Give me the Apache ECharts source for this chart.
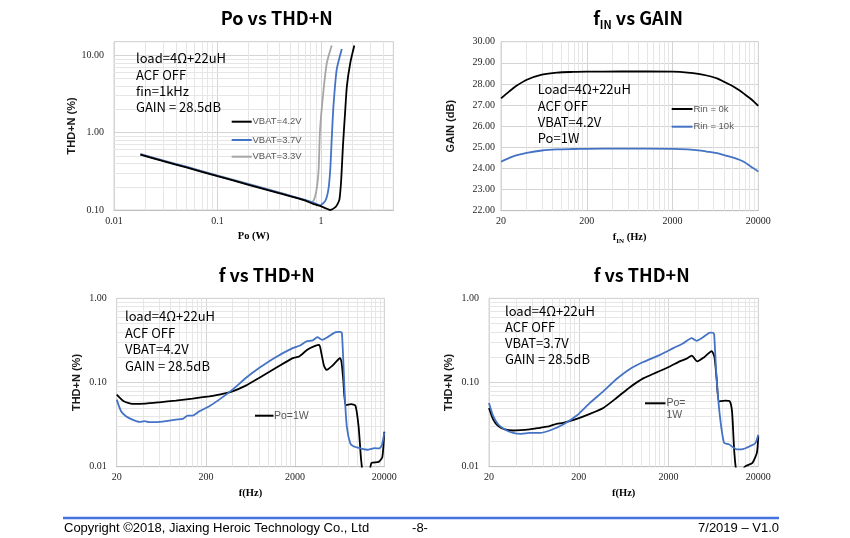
<!DOCTYPE html>
<html><head><meta charset="utf-8">
<script src="https://cdn.jsdelivr.net/npm/echarts@6/dist/echarts.min.js"></script>
<style>html,body{margin:0;padding:0;background:#fff}#c{width:850px;height:538px}</style>
</head><body><div id="c"></div><script>
// ---------- DATA ----------
// Chart 1: Po vs THD+N (Po in W, THD+N in %)
const po42 = [0.018, 0.03, 0.05, 0.1, 0.2, 0.4, 0.7, 0.85, 0.98, 1.1, 1.23, 1.37, 1.45, 1.51, 1.57, 1.63, 1.71, 1.78, 1.92, 2.1];
const thd42 = [0.52, 0.428, 0.355, 0.274, 0.212, 0.164, 0.133, 0.119, 0.113, 0.106, 0.1, 0.108, 0.12, 0.138, 0.25, 0.67, 1.81, 4.0, 8.0, 13.4];
const po37 = [0.018, 0.03, 0.05, 0.1, 0.2, 0.4, 0.7, 0.85, 0.98, 1.1, 1.18, 1.23, 1.27, 1.32, 1.42, 1.59];
const thd37 = [0.525, 0.433, 0.36, 0.277, 0.215, 0.166, 0.135, 0.124, 0.115, 0.131, 0.185, 0.336, 0.82, 2.2, 6.6, 12.1];
const po33 = [0.018, 0.03, 0.05, 0.1, 0.2, 0.4, 0.6, 0.72, 0.79, 0.84, 0.88, 0.92, 0.95, 0.98, 1.06, 1.14, 1.27];
const thd33 = [0.53, 0.437, 0.363, 0.28, 0.218, 0.168, 0.142, 0.131, 0.126, 0.13, 0.152, 0.21, 0.336, 1.1, 3.6, 8.0, 13.4];
const vbatNames = ['VBAT=4.2V', 'VBAT=3.7V', 'VBAT=3.3V'];

// Chart 2: fIN vs GAIN (Hz, dB)
const fGain = [20, 25, 30, 40, 60, 90, 140, 200, 500, 1000, 2000, 3000, 4000, 5000, 6600, 8000, 10000, 12000, 14000, 16000, 18000, 20000];
const gain0k = [27.32, 27.65, 27.9, 28.2, 28.44, 28.54, 28.57, 28.58, 28.59, 28.59, 28.58, 28.54, 28.48, 28.4, 28.26, 28.1, 27.9, 27.7, 27.5, 27.32, 27.14, 26.96];
const gain10k = [24.32, 24.5, 24.62, 24.74, 24.85, 24.9, 24.92, 24.93, 24.94, 24.94, 24.93, 24.9, 24.86, 24.8, 24.72, 24.63, 24.52, 24.41, 24.28, 24.12, 23.98, 23.85];
const rinNames = ['Rin = 0k', 'Rin = 10k'];

// Chart 3: f vs THD+N, VBAT=4.2V
const f3a = [20, 24, 30, 42, 60, 92, 142, 218, 282, 397, 560, 788, 1212, 1880, 2220, 2740, 3300, 3730, 3950, 4220, 4520, 5230, 6370, 6650, 6940, 7380, 8500, 9500, 10300, 11000, 11800, 12800, 13800, 14400, 17300, 19000, 20000];
const thd3a = [0.0718, 0.0598, 0.0557, 0.0562, 0.0582, 0.061, 0.0644, 0.0686, 0.0718, 0.0786, 0.0918, 0.113, 0.1485, 0.195, 0.204, 0.245, 0.27, 0.28, 0.22, 0.158, 0.141, 0.158, 0.194, 0.17, 0.107, 0.054, 0.0555, 0.053, 0.03, 0.012, 0.007, 0.006, 0.009, 0.0111, 0.0114, 0.013, 0.026];
const f3b = [20, 22.4, 25.4, 30, 36, 41, 46, 55, 71, 92, 110, 125, 142, 169, 218, 282, 397, 560, 788, 1212, 1880, 2270, 2660, 3150, 3550, 4030, 4600, 5700, 6370, 6700, 7220, 7600, 8300, 9000, 10700, 13200, 15600, 17500, 18800, 20000];
const thd3b = [0.0626, 0.0456, 0.0398, 0.0363, 0.0341, 0.0347, 0.0338, 0.0338, 0.0347, 0.0363, 0.037, 0.0405, 0.0405, 0.0456, 0.0522, 0.0626, 0.0822, 0.113, 0.1485, 0.2, 0.256, 0.275, 0.307, 0.316, 0.345, 0.321, 0.345, 0.396, 0.4, 0.385, 0.068, 0.03, 0.019, 0.0175, 0.0166, 0.0159, 0.0166, 0.0165, 0.018, 0.0255];

// Chart 4: f vs THD+N, VBAT=3.7V
const f4a = [20, 22.3, 25.4, 30, 37, 57, 74, 95, 113, 134, 190, 266, 375, 527, 743, 1045, 1474, 2070, 2660, 3185, 3624, 4180, 5000, 6050, 6500, 6880, 7300, 8500, 9600, 10200, 10800, 11500, 12500, 13500, 14300, 17200, 19300, 20000];
const thd4a = [0.0499, 0.0363, 0.0303, 0.0277, 0.0269, 0.0277, 0.029, 0.0303, 0.0323, 0.0332, 0.037, 0.0424, 0.0499, 0.0656, 0.088, 0.112, 0.132, 0.155, 0.178, 0.192, 0.208, 0.178, 0.2, 0.236, 0.2, 0.108, 0.0598, 0.061, 0.06, 0.045, 0.015, 0.008, 0.006, 0.009, 0.0101, 0.0111, 0.0147, 0.023];
const f4b = [20, 22.3, 25.4, 30, 37, 46, 57, 74, 95, 134, 190, 266, 375, 527, 743, 1045, 1607, 2260, 2923, 3624, 4100, 4840, 5800, 6260, 6450, 6800, 7400, 8300, 9400, 11500, 13500, 16100, 18500, 20000];
const thd4b = [0.0572, 0.0398, 0.0317, 0.0277, 0.0252, 0.0246, 0.0252, 0.0252, 0.0269, 0.0317, 0.0405, 0.0572, 0.0786, 0.11, 0.145, 0.175, 0.213, 0.256, 0.293, 0.336, 0.313, 0.345, 0.392, 0.39, 0.37, 0.13, 0.0435, 0.0192, 0.0185, 0.0161, 0.0162, 0.0175, 0.019, 0.024];

// Axis ranges
const poRange = [0.01, 5];
const thdRange1 = [0.1, 15];
const fRange = [20, 20000];
const gainRange = [22, 30];
const thdRange2 = [0.01, 1];

// ---------- BUILD ----------
const L = Math.log10;
const pairsLL = (xs, ys) => xs.map((x, i) => [L(x), L(ys[i])]);
const pairsF = (fs, ys, logY) => fs.map((f, i) => [L(f / fRange[0]), logY ? L(ys[i]) : ys[i]]);

const CJK = '"Noto Sans CJK SC","Noto Sans",sans-serif';
const SERIF = '"Liberation Serif","DejaVu Serif",serif';
const SANS = '"Liberation Sans",Arial,sans-serif';
const BLACK = '#000000', BLUE = '#4472c4', GRAY = '#a5a5a5';
const MAJOR = '#d4d4d4', MINOR = '#e6e6e6';

function minor(key, exps, maxV) {
  const out = [];
  exps.forEach(e => { for (let k = 2; k <= 9; k++) { const v = e + L(k); if (v < maxV - 1e-6) out.push({ [key]: v }); } });
  return out;
}

const grids = [
  { left: 114, top: 41.7, width: 279.3, height: 168.3 },
  { left: 501, top: 41.7, width: 257.3, height: 169 },
  { left: 116.7, top: 298.3, width: 267.6, height: 168.4 },
  { left: 489, top: 298.3, width: 269.3, height: 168.4 }
].map(g => Object.assign(g, { show: true, borderColor: MAJOR, borderWidth: 1, containLabel: false }));

const labelSerif = { fontFamily: SERIF, fontSize: 10, color: '#262626' };
const fmtPow = v => { const p = Math.pow(10, v); return String(+p.toPrecision(3)); };
const fmtPow2 = v => Math.pow(10, v).toFixed(2);
const fmtF = v => String(Math.round(fRange[0] * Math.pow(10, v)));

function xAx(gi, min, max, fmt, name, gap, rich) {
  return {
    type: 'value', gridIndex: gi, min, max, interval: 1,
    axisLine: { show: true, onZero: false, lineStyle: { color: '#bfbfbf' } }, axisTick: { show: false },
    splitLine: { show: true, lineStyle: { color: MAJOR } },
    axisLabel: Object.assign({ formatter: fmt, margin: 6, showMaxLabel: fmt === fmtF, showMinLabel: true }, labelSerif),
    name, nameLocation: 'middle', nameGap: gap,
    nameTextStyle: rich ? { rich } : { fontFamily: SERIF, fontWeight: 'bold', fontSize: 10.5, color: '#000' }
  };
}
function yAx(gi, min, max, fmt, name, gap, margin, showMax) {
  return {
    type: 'value', gridIndex: gi, min, max, interval: 1,
    axisLine: { show: false, onZero: false }, axisTick: { show: false },
    splitLine: { show: true, lineStyle: { color: MAJOR } },
    axisLabel: Object.assign({ formatter: fmt, margin, showMaxLabel: showMax }, labelSerif),
    name, nameLocation: 'middle', nameGap: gap, nameRotate: 90,
    nameTextStyle: { fontFamily: SANS, fontWeight: 'bold', fontSize: 11, color: '#1a1a1a' }
  };
}

const xAxis = [
  xAx(0, L(poRange[0]), L(poRange[1]), fmtPow, 'Po (W)', 21),
  xAx(1, 0, L(fRange[1] / fRange[0]), fmtF, '{a|f}{b|IN}{a| (Hz)}', 20, {
    a: { fontFamily: SERIF, fontWeight: 'bold', fontSize: 10.5, color: '#000', lineHeight: 14 },
    b: { fontFamily: SERIF, fontWeight: 'bold', fontSize: 7, color: '#000', lineHeight: 9, verticalAlign: 'bottom' } }),
  xAx(2, 0, L(fRange[1] / fRange[0]), fmtF, 'f(Hz)', 21),
  xAx(3, 0, L(fRange[1] / fRange[0]), fmtF, 'f(Hz)', 21)
];
const yAxis = [
  yAx(0, L(thdRange1[0]), L(thdRange1[1]), fmtPow2, 'THD+N (%)', 31, 10, false),
  yAx(1, gainRange[0], gainRange[1], v => v.toFixed(2), 'GAIN (dB)', 45, 6, true),
  yAx(2, L(thdRange2[0]), L(thdRange2[1]), fmtPow2, 'THD+N (%)', 34, 10, true),
  yAx(3, L(thdRange2[0]), L(thdRange2[1]), fmtPow2, 'THD+N (%)', 35, 10, true)
];

function gridLines(gi, xs, ys, start) {
  return {
    type: 'line', xAxisIndex: gi, yAxisIndex: gi, data: [start], showSymbol: false, silent: true, z: 1,
    lineStyle: { opacity: 0 }, animation: false, tooltip: { show: false },
    markLine: { silent: true, z: 1, symbol: ['none', 'none'], label: { show: false }, animation: false,
      emphasis: { disabled: true }, lineStyle: { color: MINOR, width: 1, type: 'solid' }, data: xs.concat(ys) }
  };
}
function curve(gi, name, data, color, smooth) {
  return { type: 'line', name, xAxisIndex: gi, yAxisIndex: gi, data, showSymbol: false, smooth: smooth,
    clip: true, z: 3, animation: false, lineStyle: { color, width: 1.8 }, itemStyle: { color } };
}

const series = [
  gridLines(0, minor('xAxis', [-2, -1, 0], L(poRange[1])), minor('yAxis', [-1, 0, 1], L(thdRange1[1])), [L(poRange[0]), L(thdRange1[0])]),
  gridLines(1, minor('xAxis', [0, 1, 2], 3), [], [0, gainRange[0]]),
  gridLines(2, minor('xAxis', [0, 1, 2], 3), minor('yAxis', [-2, -1], 0), [0, -2]),
  gridLines(3, minor('xAxis', [0, 1, 2], 3), minor('yAxis', [-2, -1], 0), [0, -2]),
  curve(0, vbatNames[2], pairsLL(po33, thd33), GRAY, 0.2),
  curve(0, vbatNames[1], pairsLL(po37, thd37), BLUE, 0.2),
  curve(0, vbatNames[0], pairsLL(po42, thd42), BLACK, 0.2),
  curve(1, rinNames[0], pairsF(fGain, gain0k, false), BLACK, 0.3),
  curve(1, rinNames[1], pairsF(fGain, gain10k, false), BLUE, 0.3),
  curve(2, 'Po=1W (4.2V)', pairsF(f3a, thd3a, true), BLACK, 0.2),
  curve(2, 'blue 4.2V', pairsF(f3b, thd3b, true), BLUE, 0.2),
  curve(3, 'Po=1W (3.7V)', pairsF(f4a, thd4a, true), BLACK, 0.2),
  curve(3, 'blue 3.7V', pairsF(f4b, thd4b, true), BLUE, 0.2)
];

// ---------- TEXT / DECORATION ----------
function txt(x, y, text, font, opts) {
  const o = opts || {};
  return { type: 'text', x, y, z: 10, silent: true, style: Object.assign({
    text, font, fill: o.fill || '#000', align: o.align || 'left', textAlign: o.align || 'left',
    verticalAlign: o.va || 'middle', textVerticalAlign: o.va || 'middle', lineHeight: o.lh }, o.rich ? { rich: o.rich } : {}) };
}
function seg(x1, x2, y, color, w) {
  return { type: 'line', z: 10, silent: true, shape: { x1, y1: y, x2, y2: y }, style: { stroke: color, lineWidth: w || 2 } };
}
const TITLE = 'bold 18px ' + CJK;
const NOTE = '13px ' + CJK;
const LEG1 = '9.5px ' + SANS;
const LEG2 = '10.5px ' + SANS;
const LG = '#595959';

const graphic = [
  txt(276.7, 18, 'Po vs THD+N', TITLE, { align: 'center' }),
  txt(638, 18, '{a|f}{b|IN}{a| vs GAIN}', '', { align: 'center', rich: {
    a: { font: TITLE, fill: '#000', lineHeight: 24 },
    b: { font: 'bold 11px ' + CJK, fill: '#000', lineHeight: 12, verticalAlign: 'bottom' } } }),
  txt(266.7, 275, 'f vs THD+N', TITLE, { align: 'center' }),
  txt(641.7, 275, 'f vs THD+N', TITLE, { align: 'center' }),
  // annotations
  txt(136, 50, 'load=4Ω+22uH\nACF OFF\nfin=1kHz\nGAIN = 28.5dB', NOTE, { va: 'top', lh: 16.4 }),
  txt(537.7, 81, 'Load=4Ω+22uH\nACF OFF\nVBAT=4.2V\nPo=1W', NOTE, { va: 'top', lh: 16.4 }),
  txt(125, 307.7, 'load=4Ω+22uH\nACF OFF\nVBAT=4.2V\nGAIN = 28.5dB', NOTE, { va: 'top', lh: 16.7 }),
  txt(505, 303.5, 'load=4Ω+22uH\nACF OFF\nVBAT=3.7V\nGAIN = 28.5dB', NOTE, { va: 'top', lh: 16 }),
  // legends
  seg(231.7, 251.7, 121.7, BLACK), txt(252.5, 121.7, vbatNames[0], LEG1, { fill: LG }),
  seg(231.7, 251.7, 140, BLUE), txt(252.5, 140, vbatNames[1], LEG1, { fill: LG }),
  seg(231.7, 251.7, 156.7, GRAY), txt(252.5, 156.7, vbatNames[2], LEG1, { fill: LG }),
  seg(671.7, 692.5, 109, BLACK), txt(693.5, 109, rinNames[0], LEG1, { fill: LG }),
  seg(671.7, 692.5, 126.7, BLUE), txt(693.5, 126.7, rinNames[1], LEG1, { fill: LG }),
  seg(255, 273.5, 415.7, BLACK), txt(274, 415.7, 'Po=1W', LEG2, { fill: LG }),
  seg(645, 665.5, 403.3, BLACK), txt(666.5, 403.3, 'Po=', LEG2, { fill: LG }), txt(666.5, 415.5, '1W', LEG2, { fill: LG }),
  // footer
  seg(63, 779, 518, '#4472e0', 2.5),
  txt(64, 528, 'Copyright ©2018, Jiaxing Heroic Technology Co., Ltd', '13px ' + SANS),
  txt(420, 528, '-8-', '13px ' + SANS, { align: 'center' }),
  txt(779, 528, '7/2019 – V1.0', '13px ' + SANS, { align: 'right' })
];

const chart = echarts.init(document.getElementById('c'), null, { renderer: 'canvas' });
chart.setOption({ animation: false, backgroundColor: '#ffffff', grid: grids, xAxis, yAxis, series, graphic });
</script></body></html>
